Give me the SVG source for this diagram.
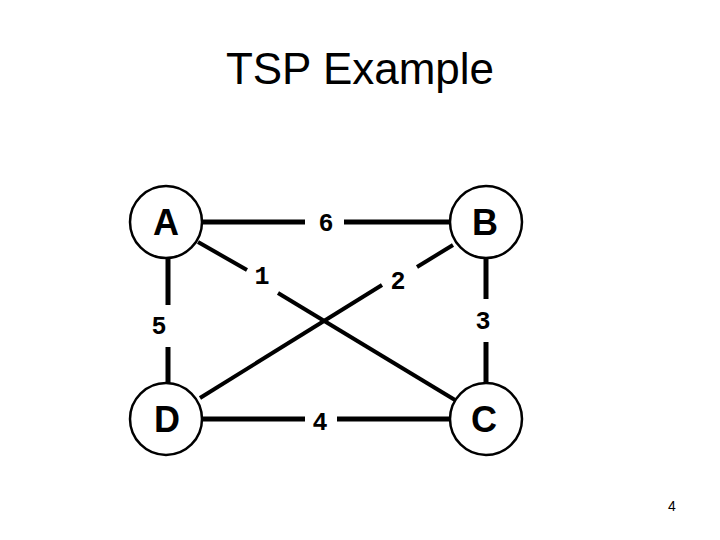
<svg xmlns="http://www.w3.org/2000/svg" width="720" height="540" viewBox="0 0 720 540">
<style>
.node circle{fill:#fff;stroke:#000;stroke-width:2.5}
.node text{font-family:"Liberation Sans",Arial,sans-serif;font-weight:bold;font-size:36px;text-anchor:middle;fill:#000}
.e{stroke:#000;stroke-width:5;fill:none}
.d{stroke:#000;stroke-width:4;fill:none}
.w{font-family:"Liberation Mono","Courier New",monospace;font-weight:bold;font-size:25px;text-anchor:middle;fill:#000}
</style>
<rect width="720" height="540" fill="#fff"/>
<text x="360" y="84" font-family="Liberation Sans,Arial,sans-serif" font-size="44" text-anchor="middle">TSP Example</text>
<g id="connectors">
<line class="e" x1="202" y1="222" x2="305" y2="222"/>
<line class="e" x1="344" y1="222" x2="449" y2="222"/>
<line class="e" x1="168" y1="258" x2="168" y2="305"/>
<line class="e" x1="168" y1="347" x2="168" y2="383"/>
<line class="e" x1="486" y1="258" x2="486" y2="299"/>
<line class="e" x1="486" y1="342" x2="486" y2="383"/>
<line class="e" x1="202" y1="419" x2="305" y2="419"/>
<line class="e" x1="337" y1="419" x2="449" y2="419"/>
<line class="d" x1="198" y1="242" x2="247" y2="270"/>
<line class="d" x1="278" y1="293" x2="455" y2="400"/>
<line class="d" x1="453" y1="245" x2="417" y2="267"/>
<line class="d" x1="382" y1="285" x2="200" y2="398"/>
<text class="w" x="326" y="231">6</text>
<text class="w" x="262" y="284">1</text>
<text class="w" x="398" y="289">2</text>
<text class="w" x="159" y="334">5</text>
<text class="w" x="483" y="329">3</text>
<text class="w" x="320" y="430">4</text>
</g>
<g id="A" class="node"><circle cx="166" cy="222" r="36"/><text x="166" y="235">A</text></g>
<g id="B" class="node"><circle cx="486" cy="222" r="36"/><text x="485" y="235">B</text></g>
<g id="D" class="node"><circle cx="166" cy="419" r="36"/><text x="167" y="432">D</text></g>
<g id="C" class="node"><circle cx="486" cy="419" r="36"/><text x="484" y="432">C</text></g>
<text x="672" y="511" font-family="Liberation Sans,Arial,sans-serif" font-size="14" text-anchor="middle">4</text>
</svg>
